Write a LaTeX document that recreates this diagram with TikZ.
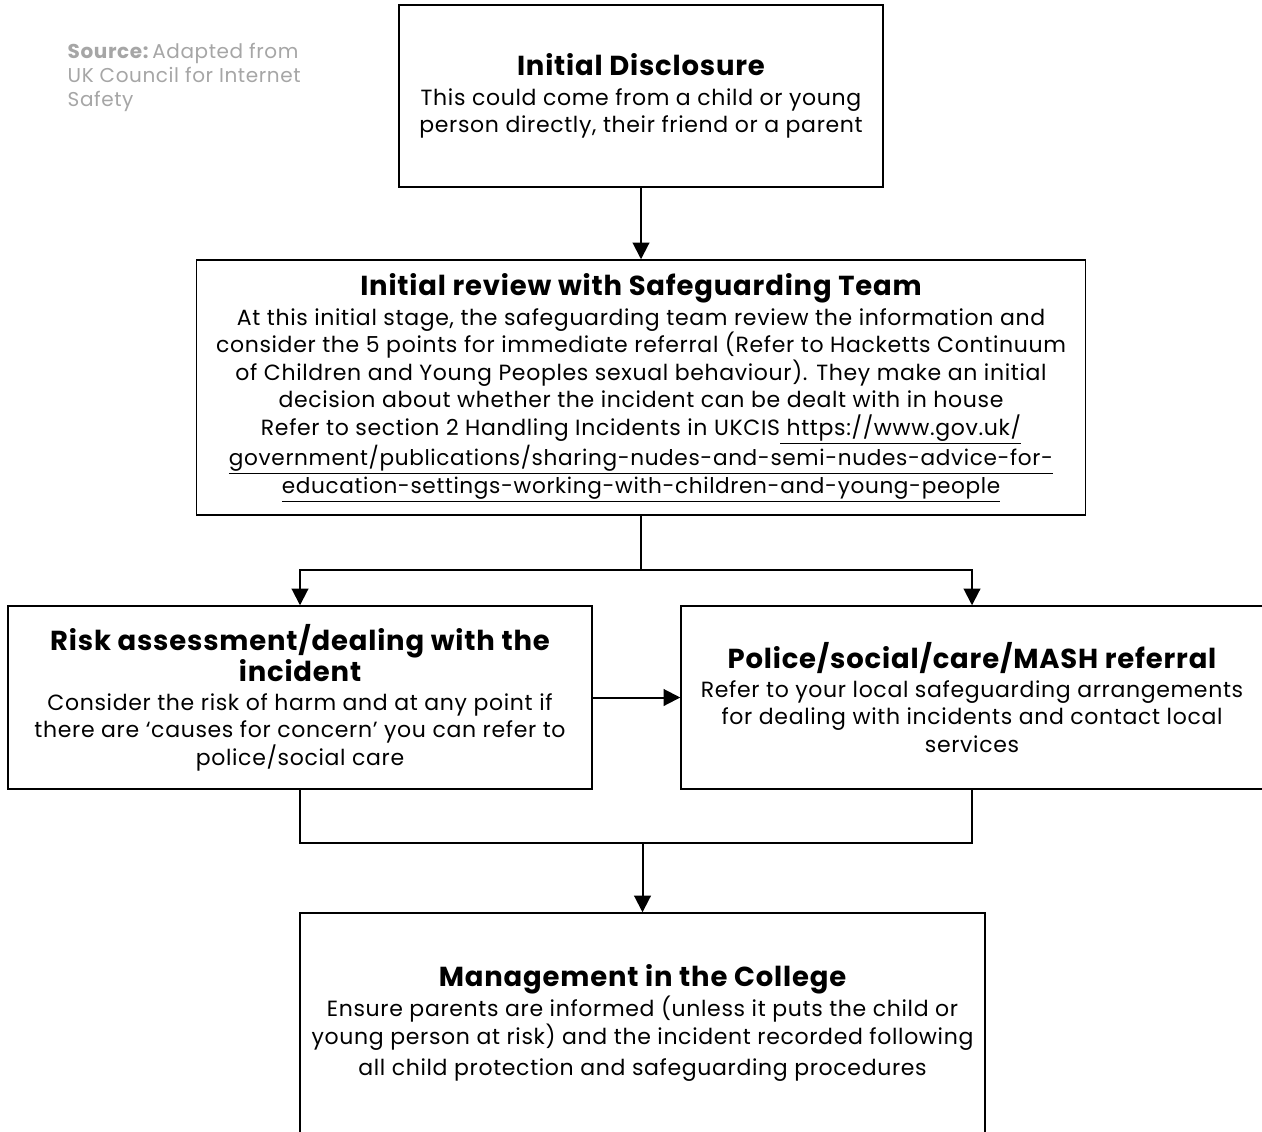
\documentclass[tikz,border=0pt]{standalone}
\usepackage{fontspec}
\setmainfont{Poppins}[LetterSpace=3]
\usetikzlibrary{arrows.meta}
\definecolor{srcgray}{HTML}{A6A6A6}
\tikzset{
  box/.style={draw=black, line width=1.1pt, rectangle, align=center, inner sep=0pt, font=\fontsize{16.5}{20.6}\selectfont},
  conn/.style={line width=1.5pt, draw=black},
  arr/.style={conn, -{Triangle[length=12.5pt,width=12.5pt]}},
}
\newcommand{\ttl}[1]{{\fontsize{20.6}{23}\selectfont\bfseries #1}}
\begin{document}
\begin{tikzpicture}[x=0.75pt,y=-0.75pt]
\useasboundingbox (0,0) rectangle (1262,1131);
\clip (0,0) rectangle (1262,1131);
\fill[white] (0,0) rectangle (1262,1131);

\node[anchor=north west, align=left, text=srcgray, font=\fontsize{15}{18}\selectfont] (src) at (63,39)
  {\textbf{Source:}\,Adapted from\\UK Council for Internet\\Safety};

\node[box, minimum width=484*0.75pt, minimum height=182*0.75pt] (b1) at (641,96)
  {\ttl{Initial Disclosure}\\[2pt]
   This could come from a child or young\\
   person directly, their friend or a parent};

\node[box, minimum width=889*0.75pt, minimum height=255*0.75pt] (b2) at (641,387.5)
  {\ttl{Initial review with Safeguarding Team}\\[2pt]
   At this initial stage, the safeguarding team review the information and\\
   consider the 5 points for immediate referral (Refer to Hacketts Continuum\\
   of Children and Young Peoples sexual behaviour). They make an initial\\
   decision about whether the incident can be dealt with in house\\
   Refer to section 2 Handling Incidents in UKCIS\underline{ https://www.gov.uk/}\\
   {\fontsize{16.2}{20.6}\selectfont\underline{government/publications/sharing-nudes-and-semi-nudes-advice-for-}}\\
   {\fontsize{16.2}{20.6}\selectfont\underline{education-settings-working-with-children-and-young-people}}};

\node[box, minimum width=584*0.75pt, minimum height=183*0.75pt] (b3) at (300,697.5)
  {\ttl{Risk assessment/dealing with the}\\
   \ttl{incident}\\[1pt]
   Consider the risk of harm and at any point if\\
   there are `causes for concern' you can refer to\\
   police/social care};

\node[box, minimum width=582*0.75pt, minimum height=183*0.75pt] (b4) at (972,697.5)
  {\ttl{Police/social/care/MASH referral}\\[1pt]
   Refer to your local safeguarding arrangements\\
   for dealing with incidents and contact local\\
   services};

\node[box, minimum width=685*0.75pt, minimum height=220*0.75pt] (b5) at (642.5,1023)
  {\ttl{Management in the College}\\[1pt]
   Ensure parents are informed (unless it puts the child or\\
   young person at risk) and the incident recorded following\\[3pt]
   all child protection and safeguarding procedures};

\coordinate (s1) at (b2.south |- 0,570);
\coordinate (m1) at (b5.north |- 0,843);

\draw[arr] (b1.south) -- (b2.north);
\draw[conn] (b2.south) -- (s1);
\draw[arr] (s1) -| (b3.north);
\draw[arr] (s1) -| (b4.north);
\draw[arr] (b3.east) -- (b4.west);
\draw[conn] (b3.south) |- (m1);
\draw[conn] (b4.south) |- (m1);
\draw[arr] (m1) -- (b5.north);
\end{tikzpicture}
\end{document}
